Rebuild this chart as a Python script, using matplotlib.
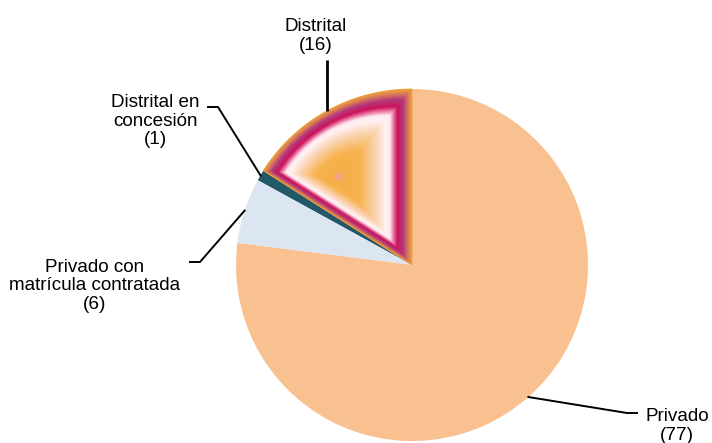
import numpy as np
import matplotlib
matplotlib.use("Agg")
import matplotlib.pyplot as plt
from matplotlib.patches import Polygon
from matplotlib.colors import LinearSegmentedColormap

plt.rcParams['font.family'] = ['Liberation Sans', 'DejaVu Sans']

# ---- data ----
categories = ["Distrital", "Distrital en\nconcesión", "Privado con\nmatrícula contratada", "Privado"]
values = [16, 1, 6, 77]
colors = ["#F0A43C", "#215968", "#DCE6F2", "#F9C18F"]

W, H = 712, 443
CX, CY, R = 412, 265, 176  # pixel layout of the pie

fig = plt.figure(figsize=(W / 100, H / 100), dpi=100)
ax = fig.add_axes([0, 0, 1, 1])

def px(x, y):
    return ((x - CX) / R, (CY - y) / R)

wedges, _ = ax.pie(values, colors=colors, startangle=90, counterclock=True,
                   radius=1, center=(0, 0), frame=True,
                   wedgeprops=dict(linewidth=0))
ax.set_xlim(-CX / R, (W - CX) / R)
ax.set_ylim(-(H - CY) / R, CY / R)
ax.set_aspect('auto')
ax.axis('off')

# ---- path-gradient fill for the Distrital wedge ----
w = wedges[0]
t = np.linspace(np.radians(w.theta1), np.radians(w.theta2), 120)
pts = np.vstack([[0, 0], np.column_stack([w.r * np.cos(t), w.r * np.sin(t)])])
cx0 = (pts[:, 0].min() + pts[:, 0].max()) / 2
cy0 = (pts[:, 1].min() + pts[:, 1].max()) / 2
cmap = LinearSegmentedColormap.from_list("grad", [
    (0.00, "#F4A0B4"),
    (0.07, "#F5AE48"),
    (0.28, "#F6B24C"),
    (0.52, "#FBD6B8"),
    (0.64, "#FFF2F2"),
    (0.70, "#FFEAF0"),
    (0.74, "#F08AB0"),
    (0.80, "#CC145C"),
    (0.88, "#B43A7C"),
    (0.95, "#DC7E58"),
    (1.00, "#F0A43C"),
])
w.set_visible(False)
for s in np.linspace(1.0, 0.005, 180):
    sp = np.column_stack([cx0 + s * (pts[:, 0] - cx0), cy0 + s * (pts[:, 1] - cy0)])
    ax.add_patch(Polygon(sp, closed=True, facecolor=cmap(s), edgecolor=cmap(s),
                         linewidth=0.6, zorder=2))

# ---- labels with leader lines ----
label_pos = [(316, 36), (155, 121), (95, 286), (677, 426)]
elbows = [None, [(208, 107), (218, 107)], [(190, 262), (200, 262)], [(637, 413), (627, 413)]]
lw = [2.0, 1.4, 1.4, 1.4]
for i, (cat, v) in enumerate(zip(categories, values)):
    wd = wedges[i]
    mid = np.radians((wd.theta1 + wd.theta2) / 2)
    ex, ey = wd.r * np.cos(mid), wd.r * np.sin(mid)
    tx, ty = px(*label_pos[i])
    ax.text(tx, ty, f"{cat}\n({v})", ha='center', va='center', fontsize=13.6,
            color='#000000', linespacing=1.15, zorder=5)
    if elbows[i] is None:
        sx, sy = px(326, 60)
        ax.plot([ex, ex], [sy, ey], color='black', lw=lw[i], zorder=4,
                solid_capstyle='butt')
    else:
        p1 = px(*elbows[i][0])
        p2 = px(*elbows[i][1])
        ax.plot([p1[0], p2[0], ex], [p1[1], p2[1], ey], color='black', lw=lw[i],
                zorder=4)

fig.savefig("out.png", dpi=100)
